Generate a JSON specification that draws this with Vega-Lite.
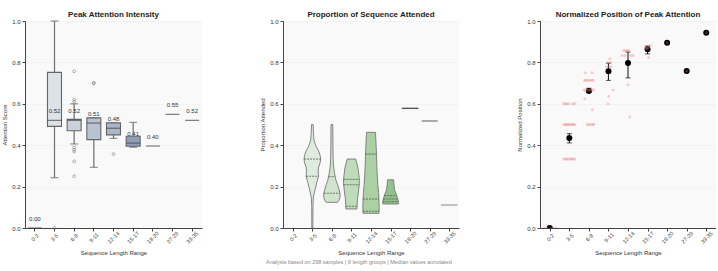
{
  "$schema": "https://vega.github.io/schema/vega-lite/v6.json",
  "background": "white",
  "padding": {"left": 1, "top": 11, "right": 0, "bottom": 0},
  "config": {
    "font": "Liberation Sans",
    "view": {"fill": "#f9f9f9", "stroke": null},
    "axis": {"domainColor": "#444", "domainWidth": 1, "tickColor": "#444", "tickSize": 3, "labelFontSize": 6, "labelColor": "#333", "titleFontSize": 6, "titleFontWeight": "normal", "titleColor": "#333", "gridColor": "#ececec", "gridWidth": 0.6, "titlePadding": 4},
    "axisX": {"labelAngle": -45, "labelAlign": "center", "labelBaseline": "middle", "labelPadding": 6, "labelFontSize": 5.5, "grid": false, "titlePadding": 5},
    "title": {"fontSize": 8, "fontWeight": "bold", "color": "#222", "offset": -1}
  },
  "title": {"text": "Analysis based on 298 samples | 9 length groups | Median values annotated", "orient": "bottom", "fontSize": 5.5, "fontWeight": "normal", "color": "#888", "anchor": "middle", "offset": 5},
  "spacing": 57,
  "resolve": {"scale": {"fill": "independent", "stroke": "independent"}},
  "hconcat": [
    {
      "width": 177,
      "height": 207,
      "title": "Peak Attention Intensity",
      "data": {"values": [
        {"g": "0-2", "med": 0.0, "n": 1},
        {"g": "3-5", "lo": 0.243, "q1": 0.491, "med": 0.52, "q3": 0.752, "hi": 1.0, "n": 30},
        {"g": "6-8", "lo": 0.406, "q1": 0.47, "med": 0.52, "q3": 0.525, "hi": 0.6, "n": 60},
        {"g": "9-11", "lo": 0.293, "q1": 0.427, "med": 0.507, "q3": 0.532, "hi": 0.532, "n": 20},
        {"g": "12-14", "lo": 0.433, "q1": 0.45, "med": 0.482, "q3": 0.508, "hi": 0.508, "n": 12},
        {"g": "15-17", "lo": 0.39, "q1": 0.395, "med": 0.41, "q3": 0.443, "hi": 0.51, "n": 8},
        {"g": "18-20", "med": 0.396, "n": 1},
        {"g": "27-29", "med": 0.549, "n": 1},
        {"g": "33-35", "med": 0.52, "n": 1}
      ]},
      "encoding": {
        "x": {"field": "g", "type": "ordinal", "title": "Sequence Length Range",
          "scale": {"domain": ["0-2", "3-5", "6-8", "9-11", "12-14", "15-17", "18-20", "27-29", "33-35"], "paddingInner": 0, "paddingOuter": 0}}
      },
      "layer": [
        {
          "mark": {"type": "rule", "color": "#777", "strokeWidth": 1.3},
          "encoding": {
            "y": {"field": "lo", "type": "quantitative", "title": "Attention Score", "scale": {"domain": [0, 1], "nice": false}, "axis": {"values": [0, 0.2, 0.4, 0.6, 0.8, 1.0], "format": ".1f"}},
            "y2": {"field": "hi"}
          }
        },
        {
          "mark": {"type": "tick", "color": "#666", "thickness": 1.2, "size": 8, "orient": "horizontal"},
          "encoding": {"y": {"field": "lo", "type": "quantitative"}}
        },
        {
          "mark": {"type": "tick", "color": "#666", "thickness": 1.2, "size": 8, "orient": "horizontal"},
          "encoding": {"y": {"field": "hi", "type": "quantitative"}}
        },
        {
          "mark": {"type": "bar", "size": 14, "stroke": "#666", "strokeWidth": 1.1},
          "encoding": {
            "y": {"field": "q1", "type": "quantitative"},
            "y2": {"field": "q3"},
            "fill": {"field": "g", "type": "nominal", "legend": null,
              "scale": {"domain": ["3-5", "6-8", "9-11", "12-14", "15-17"], "range": ["#dde2e8", "#c9d2dc", "#b7c3d1", "#a7b6c8", "#8e9fb6"]}}
          }
        },
        {
          "mark": {"type": "tick", "color": "#444", "thickness": 1.2, "size": 14, "orient": "horizontal"},
          "encoding": {"y": {"field": "med", "type": "quantitative"}}
        },
        {
          "mark": {"type": "text", "fontSize": 6, "color": "#333", "dy": -9, "baseline": "middle"},
          "encoding": {
            "y": {"field": "med", "type": "quantitative"},
            "text": {"field": "med", "type": "quantitative", "format": ".2f"}
          }
        },
        {
          "data": {"values": [
            {"g": "3-5", "v": 0.0},
            {"g": "6-8", "v": 0.757}, {"g": "6-8", "v": 0.62}, {"g": "6-8", "v": 0.61},
            {"g": "6-8", "v": 0.39}, {"g": "6-8", "v": 0.378}, {"g": "6-8", "v": 0.369},
            {"g": "6-8", "v": 0.322}, {"g": "6-8", "v": 0.25},
            {"g": "9-11", "v": 0.702}, {"g": "9-11", "v": 0.698},
            {"g": "12-14", "v": 0.357}
          ]},
          "mark": {"type": "point", "filled": false, "size": 8, "stroke": "#666", "strokeWidth": 0.7},
          "encoding": {"y": {"field": "v", "type": "quantitative"}}
        }
      ]
    },
    {
      "width": 176,
      "height": 207,
      "title": "Proportion of Sequence Attended",
      "encoding": {
        "x": {"type": "quantitative", "title": "Sequence Length Range",
          "scale": {"domain": [-0.5, 8.5], "nice": false, "zero": false},
          "axis": {"values": [0, 1, 2, 3, 4, 5, 6, 7, 8], "labelExpr": "['0-2','3-5','6-8','9-11','12-14','15-17','18-20','27-29','33-35'][datum.value]"}}
      },
      "layer": [
        {
          "data": {"values": [
            {"g": "3-5", "v": 0.0, "lo": 0.974, "hi": 1.026},
            {"g": "3-5", "v": 0.10, "lo": 0.969, "hi": 1.031},
            {"g": "3-5", "v": 0.14, "lo": 0.954, "hi": 1.046},
            {"g": "3-5", "v": 0.16, "lo": 0.923, "hi": 1.077},
            {"g": "3-5", "v": 0.19, "lo": 0.847, "hi": 1.153},
            {"g": "3-5", "v": 0.22, "lo": 0.770, "hi": 1.230},
            {"g": "3-5", "v": 0.25, "lo": 0.683, "hi": 1.317},
            {"g": "3-5", "v": 0.275, "lo": 0.703, "hi": 1.297},
            {"g": "3-5", "v": 0.295, "lo": 0.678, "hi": 1.322},
            {"g": "3-5", "v": 0.315, "lo": 0.601, "hi": 1.399},
            {"g": "3-5", "v": 0.333, "lo": 0.576, "hi": 1.424},
            {"g": "3-5", "v": 0.35, "lo": 0.601, "hi": 1.399},
            {"g": "3-5", "v": 0.37, "lo": 0.668, "hi": 1.332},
            {"g": "3-5", "v": 0.39, "lo": 0.785, "hi": 1.215},
            {"g": "3-5", "v": 0.41, "lo": 0.872, "hi": 1.128},
            {"g": "3-5", "v": 0.43, "lo": 0.923, "hi": 1.077},
            {"g": "3-5", "v": 0.46, "lo": 0.944, "hi": 1.056},
            {"g": "3-5", "v": 0.5, "lo": 0.959, "hi": 1.041},
            {"g": "6-8", "v": 0.124, "lo": 1.709, "hi": 2.291},
            {"g": "6-8", "v": 0.135, "lo": 1.627, "hi": 2.373},
            {"g": "6-8", "v": 0.153, "lo": 1.576, "hi": 2.424},
            {"g": "6-8", "v": 0.17, "lo": 1.591, "hi": 2.409},
            {"g": "6-8", "v": 0.188, "lo": 1.642, "hi": 2.358},
            {"g": "6-8", "v": 0.21, "lo": 1.709, "hi": 2.291},
            {"g": "6-8", "v": 0.229, "lo": 1.785, "hi": 2.215},
            {"g": "6-8", "v": 0.25, "lo": 1.836, "hi": 2.164},
            {"g": "6-8", "v": 0.269, "lo": 1.872, "hi": 2.128},
            {"g": "6-8", "v": 0.3, "lo": 1.918, "hi": 2.082},
            {"g": "6-8", "v": 0.34, "lo": 1.939, "hi": 2.061},
            {"g": "6-8", "v": 0.42, "lo": 1.949, "hi": 2.051},
            {"g": "6-8", "v": 0.5, "lo": 1.954, "hi": 2.046},
            {"g": "9-11", "v": 0.092, "lo": 2.719, "hi": 3.281},
            {"g": "9-11", "v": 0.11, "lo": 2.709, "hi": 3.291},
            {"g": "9-11", "v": 0.14, "lo": 2.693, "hi": 3.307},
            {"g": "9-11", "v": 0.165, "lo": 2.652, "hi": 3.348},
            {"g": "9-11", "v": 0.188, "lo": 2.627, "hi": 3.373},
            {"g": "9-11", "v": 0.215, "lo": 2.596, "hi": 3.404},
            {"g": "9-11", "v": 0.237, "lo": 2.601, "hi": 3.399},
            {"g": "9-11", "v": 0.26, "lo": 2.627, "hi": 3.373},
            {"g": "9-11", "v": 0.285, "lo": 2.657, "hi": 3.343},
            {"g": "9-11", "v": 0.31, "lo": 2.719, "hi": 3.281},
            {"g": "9-11", "v": 0.333, "lo": 2.780, "hi": 3.220},
            {"g": "12-14", "v": 0.071, "lo": 3.591, "hi": 4.409},
            {"g": "12-14", "v": 0.1, "lo": 3.581, "hi": 4.419},
            {"g": "12-14", "v": 0.13, "lo": 3.591, "hi": 4.409},
            {"g": "12-14", "v": 0.172, "lo": 3.611, "hi": 4.389},
            {"g": "12-14", "v": 0.21, "lo": 3.652, "hi": 4.348},
            {"g": "12-14", "v": 0.253, "lo": 3.678, "hi": 4.322},
            {"g": "12-14", "v": 0.3, "lo": 3.703, "hi": 4.297},
            {"g": "12-14", "v": 0.357, "lo": 3.719, "hi": 4.281},
            {"g": "12-14", "v": 0.41, "lo": 3.744, "hi": 4.256},
            {"g": "12-14", "v": 0.462, "lo": 3.770, "hi": 4.230},
            {"g": "15-17", "v": 0.116, "lo": 4.601, "hi": 5.399},
            {"g": "15-17", "v": 0.125, "lo": 4.601, "hi": 5.399},
            {"g": "15-17", "v": 0.14, "lo": 4.632, "hi": 5.368},
            {"g": "15-17", "v": 0.152, "lo": 4.668, "hi": 5.332},
            {"g": "15-17", "v": 0.164, "lo": 4.709, "hi": 5.291},
            {"g": "15-17", "v": 0.18, "lo": 4.780, "hi": 5.220},
            {"g": "15-17", "v": 0.197, "lo": 4.811, "hi": 5.189},
            {"g": "15-17", "v": 0.215, "lo": 4.831, "hi": 5.169},
            {"g": "15-17", "v": 0.233, "lo": 4.847, "hi": 5.153}
          ]},
          "mark": {"type": "area", "orient": "horizontal", "stroke": "#777", "strokeWidth": 0.9, "fillOpacity": 0.95},
          "encoding": {
            "y": {"field": "v", "type": "quantitative", "title": "Proportion Attended", "scale": {"domain": [0, 1], "nice": false}, "axis": {"values": [0, 0.2, 0.4, 0.6, 0.8, 1.0], "format": ".1f"}},
            "x": {"field": "lo", "type": "quantitative", "stack": null},
            "x2": {"field": "hi"},
            "fill": {"field": "g", "type": "nominal", "legend": null,
              "scale": {"domain": ["3-5", "6-8", "9-11", "12-14", "15-17"], "range": ["#dcebdb", "#cde3ca", "#badab5", "#a5cd9f", "#8cbf86"]}}
          }
        },
        {
          "data": {"values": [
            {"g": "3-5", "v": 0.333, "lo": 0.576, "hi": 1.424},
            {"g": "3-5", "v": 0.25, "lo": 0.683, "hi": 1.317},
            {"g": "6-8", "v": 0.248, "lo": 1.833, "hi": 2.167},
            {"g": "6-8", "v": 0.168, "lo": 1.59, "hi": 2.41},
            {"g": "9-11", "v": 0.235, "lo": 2.6, "hi": 3.4},
            {"g": "9-11", "v": 0.209, "lo": 2.6, "hi": 3.4},
            {"g": "9-11", "v": 0.105, "lo": 2.713, "hi": 3.287},
            {"g": "12-14", "v": 0.357, "lo": 3.719, "hi": 4.281},
            {"g": "12-14", "v": 0.14, "lo": 3.592, "hi": 4.408},
            {"g": "12-14", "v": 0.081, "lo": 3.59, "hi": 4.41},
            {"g": "15-17", "v": 0.156, "lo": 4.68, "hi": 5.32},
            {"g": "15-17", "v": 0.14, "lo": 4.632, "hi": 5.368},
            {"g": "15-17", "v": 0.127, "lo": 4.601, "hi": 5.399}
          ]},
          "mark": {"type": "rule", "color": "#555", "strokeWidth": 0.8, "strokeDash": [2, 1]},
          "encoding": {
            "y": {"field": "v", "type": "quantitative"},
            "x": {"field": "lo"},
            "x2": {"field": "hi"}
          }
        },
        {
          "data": {"values": [
            {"g": "18-20", "v": 0.578, "lo": 5.576, "hi": 6.424},
            {"g": "27-29", "v": 0.517, "lo": 6.59, "hi": 7.41},
            {"g": "33-35", "v": 0.111, "lo": 7.576, "hi": 8.424}
          ]},
          "mark": {"type": "rule", "strokeWidth": 1.4},
          "encoding": {
            "y": {"field": "v", "type": "quantitative"},
            "x": {"field": "lo"},
            "x2": {"field": "hi"},
            "stroke": {"field": "g", "type": "nominal", "legend": null,
              "scale": {"domain": ["18-20", "27-29", "33-35"], "range": ["#555555", "#888888", "#aaaaaa"]}}
          }
        }
      ]
    },
    {
      "width": 176,
      "height": 207,
      "title": "Normalized Position of Peak Attention",
      "encoding": {
        "x": {"type": "quantitative", "title": "Sequence Length Range",
          "scale": {"domain": [-0.5, 8.5], "nice": false, "zero": false},
          "axis": {"values": [0, 1, 2, 3, 4, 5, 6, 7, 8], "labelExpr": "['0-2','3-5','6-8','9-11','12-14','15-17','18-20','27-29','33-35'][datum.value]"}}
      },
      "layer": [
        {
          "data": {"name": "means", "values": [
            {"g": "0-2", "i": 0, "m": 0.0, "lo": 0.0, "hi": 0.0},
            {"g": "3-5", "i": 1, "m": 0.435, "lo": 0.411, "hi": 0.456},
            {"g": "6-8", "i": 2, "m": 0.662, "lo": 0.655, "hi": 0.675},
            {"g": "9-11", "i": 3, "m": 0.757, "lo": 0.713, "hi": 0.796},
            {"g": "12-14", "i": 4, "m": 0.797, "lo": 0.725, "hi": 0.85},
            {"g": "15-17", "i": 5, "m": 0.863, "lo": 0.841, "hi": 0.879},
            {"g": "18-20", "i": 6, "m": 0.895, "lo": null, "hi": null},
            {"g": "27-29", "i": 7, "m": 0.759, "lo": null, "hi": null},
            {"g": "33-35", "i": 8, "m": 0.943, "lo": null, "hi": null}
          ]},
          "mark": {"type": "rule", "color": "#222", "strokeWidth": 1.1},
          "encoding": {
            "x": {"field": "i"},
            "y": {"field": "lo", "type": "quantitative", "title": "Normalized Position", "scale": {"domain": [0, 1], "nice": false}, "axis": {"values": [0, 0.2, 0.4, 0.6, 0.8, 1.0], "format": ".1f"}},
            "y2": {"field": "hi"}
          }
        },
        {
          "data": {"name": "means"},
          "mark": {"type": "tick", "color": "#222", "thickness": 1.1, "size": 5, "orient": "horizontal", "clip": true},
          "encoding": {"x": {"field": "i"}, "y": {"field": "lo", "type": "quantitative"}}
        },
        {
          "data": {"name": "means"},
          "mark": {"type": "tick", "color": "#222", "thickness": 1.1, "size": 5, "orient": "horizontal", "clip": true},
          "encoding": {"x": {"field": "i"}, "y": {"field": "hi", "type": "quantitative"}}
        },
        {
          "data": {"name": "means"},
          "mark": {"type": "point", "filled": true, "color": "#000", "size": 36, "opacity": 1, "clip": true},
          "encoding": {"x": {"field": "i"}, "y": {"field": "m", "type": "quantitative"}}
        },
        {
          "data": {"values": [
            {"g": "0-2", "x": -0.3, "v": 0}, {"g": "0-2", "x": -0.15, "v": 0}, {"g": "0-2", "x": 0.15, "v": 0}, {"g": "0-2", "x": 0.3, "v": 0},
            {"g": "3-5", "x": 0.72, "v": 0.6}, {"g": "3-5", "x": 0.8, "v": 0.6}, {"g": "3-5", "x": 0.88, "v": 0.6}, {"g": "3-5", "x": 0.97, "v": 0.6}, {"g": "3-5", "x": 1.17, "v": 0.6}, {"g": "3-5", "x": 1.27, "v": 0.6},
            {"g": "3-5", "x": 0.72, "v": 0.5}, {"g": "3-5", "x": 0.79, "v": 0.5}, {"g": "3-5", "x": 0.86, "v": 0.5}, {"g": "3-5", "x": 0.93, "v": 0.5}, {"g": "3-5", "x": 1.0, "v": 0.5}, {"g": "3-5", "x": 1.08, "v": 0.5}, {"g": "3-5", "x": 1.15, "v": 0.5}, {"g": "3-5", "x": 1.22, "v": 0.5}, {"g": "3-5", "x": 1.28, "v": 0.5},
            {"g": "3-5", "x": 0.72, "v": 0.333}, {"g": "3-5", "x": 0.8, "v": 0.333}, {"g": "3-5", "x": 0.88, "v": 0.333}, {"g": "3-5", "x": 0.95, "v": 0.333}, {"g": "3-5", "x": 1.05, "v": 0.333}, {"g": "3-5", "x": 1.12, "v": 0.333}, {"g": "3-5", "x": 1.2, "v": 0.333}, {"g": "3-5", "x": 1.27, "v": 0.333},
            {"g": "6-8", "x": 1.82, "v": 0.75}, {"g": "6-8", "x": 2.16, "v": 0.75},
            {"g": "6-8", "x": 1.78, "v": 0.714}, {"g": "6-8", "x": 1.86, "v": 0.714}, {"g": "6-8", "x": 1.95, "v": 0.714}, {"g": "6-8", "x": 2.05, "v": 0.714}, {"g": "6-8", "x": 2.14, "v": 0.714}, {"g": "6-8", "x": 2.22, "v": 0.714},
            {"g": "6-8", "x": 1.75, "v": 0.667}, {"g": "6-8", "x": 1.83, "v": 0.667}, {"g": "6-8", "x": 1.92, "v": 0.667}, {"g": "6-8", "x": 2.0, "v": 0.667}, {"g": "6-8", "x": 2.08, "v": 0.667}, {"g": "6-8", "x": 2.17, "v": 0.667}, {"g": "6-8", "x": 2.24, "v": 0.667},
            {"g": "6-8", "x": 1.79, "v": 0.625}, {"g": "6-8", "x": 2.18, "v": 0.571},
            {"g": "6-8", "x": 1.92, "v": 0.5}, {"g": "6-8", "x": 2.0, "v": 0.5}, {"g": "6-8", "x": 2.1, "v": 0.5}, {"g": "6-8", "x": 2.2, "v": 0.5}, {"g": "6-8", "x": 2.25, "v": 0.5},
            {"g": "9-11", "x": 3.07, "v": 0.818}, {"g": "9-11", "x": 2.96, "v": 0.8}, {"g": "9-11", "x": 3.1, "v": 0.8},
            {"g": "9-11", "x": 2.89, "v": 0.778}, {"g": "9-11", "x": 3.03, "v": 0.778}, {"g": "9-11", "x": 3.13, "v": 0.778},
            {"g": "9-11", "x": 3.24, "v": 0.667}, {"g": "9-11", "x": 3.02, "v": 0.636}, {"g": "9-11", "x": 2.98, "v": 0.6},
            {"g": "12-14", "x": 3.78, "v": 0.857}, {"g": "12-14", "x": 3.88, "v": 0.857}, {"g": "12-14", "x": 3.97, "v": 0.857}, {"g": "12-14", "x": 4.03, "v": 0.857},
            {"g": "12-14", "x": 3.7, "v": 0.833}, {"g": "12-14", "x": 3.85, "v": 0.833}, {"g": "12-14", "x": 4.15, "v": 0.833}, {"g": "12-14", "x": 4.28, "v": 0.833},
            {"g": "12-14", "x": 4.0, "v": 0.692}, {"g": "12-14", "x": 4.09, "v": 0.538},
            {"g": "15-17", "x": 5.14, "v": 0.882}, {"g": "15-17", "x": 4.9, "v": 0.875}, {"g": "15-17", "x": 5.05, "v": 0.875},
            {"g": "15-17", "x": 4.93, "v": 0.867}, {"g": "15-17", "x": 5.0, "v": 0.867}, {"g": "15-17", "x": 5.06, "v": 0.824},
            {"g": "18-20", "x": 6.0, "v": 0.895}, {"g": "27-29", "x": 7.0, "v": 0.759}, {"g": "33-35", "x": 8.0, "v": 0.943}
          ]},
          "mark": {"type": "point", "filled": true, "color": "#e57373", "opacity": 0.32, "size": 9, "clip": true},
          "encoding": {"x": {"field": "x"}, "y": {"field": "v", "type": "quantitative"}}
        }
      ]
    }
  ]
}
